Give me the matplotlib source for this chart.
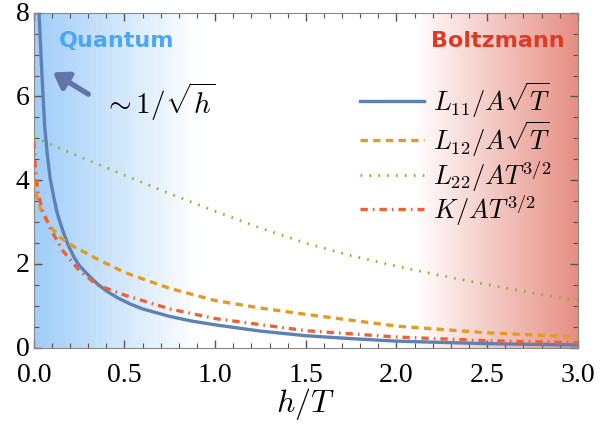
import numpy as np
import matplotlib
matplotlib.use("Agg")
import matplotlib.pyplot as plt
import matplotlib.transforms as mtransforms
from matplotlib.ticker import MultipleLocator, FormatStrFormatter

plt.rcParams['mathtext.fontset'] = 'cm'
plt.rcParams['font.family'] = ['Liberation Serif', 'DejaVu Serif']

# values
x_l11 = [0.022, 0.03, 0.042, 0.05, 0.06, 0.075, 0.09, 0.11, 0.13, 0.16, 0.19, 0.22, 0.25, 0.3,
         0.35, 0.4, 0.46, 0.53, 0.6, 0.75, 0.87, 1.0, 1.25, 1.5, 1.75, 2.0, 2.5, 3.0]
y_l11 = [8.7, 7.9, 6.8, 6.1, 5.3, 4.6, 4.05, 3.6, 3.2, 2.8, 2.45, 2.18, 1.97, 1.74,
         1.53, 1.36, 1.2, 1.05, 0.93, 0.75, 0.64, 0.55, 0.4, 0.29, 0.22, 0.16, 0.10, 0.07]

x_l12 = [0.0, 0.02, 0.042, 0.09, 0.15, 0.22, 0.35, 0.5, 0.75, 1.0, 1.25, 1.5, 2.0, 2.5, 3.0]
y_l12 = [4.0, 3.55, 3.27, 2.9, 2.62, 2.42, 2.12, 1.8, 1.42, 1.13, 0.95, 0.8, 0.52, 0.36, 0.26]

x_l22 = [0.0, 0.25, 0.5, 0.75, 1.0, 1.25, 1.5, 1.75, 2.0, 2.25, 2.5, 2.75, 3.0]
y_l22 = [5.03, 4.57, 4.12, 3.68, 3.26, 2.86, 2.5, 2.2, 1.95, 1.72, 1.51, 1.31, 1.13]

x_k = [0.0, 0.01, 0.024, 0.05, 0.088, 0.16, 0.25, 0.35, 0.5, 0.75, 1.0, 1.5, 2.0, 2.5, 3.0]
y_k = [4.93, 4.22, 3.67, 3.27, 2.87, 2.32, 1.85, 1.5, 1.26, 0.93, 0.7, 0.41, 0.26, 0.17, 0.12]

labels = [r'$L_{11}/A\sqrt{T}$', r'$L_{12}/A\sqrt{T}$', r'$L_{22}/AT^{3/2}$', r'$K/AT^{3/2}$']
colors = ['#5E81B5', '#E19C24', '#8FB032', '#EB6235']

fig = plt.figure(figsize=(6.14, 4.27), dpi=100)
ax = fig.add_axes([0.055, 0.183, 0.886, 0.785])

# background: blue fade on the left, red fade on the right
xs = np.linspace(0, 3, 600)
blue = np.array([160, 205, 248]) / 255.0
red = np.array([230, 142, 130]) / 255.0
white = np.ones(3)
wb = np.clip(1 - xs / 0.9, 0, 1)[:, None]
wr = np.clip((xs - 2.1) / 0.9, 0, 1)[:, None]
img = white * (1 - wb - wr) + blue * wb + red * wr
ax.imshow(img[None, :, :], extent=[0, 3, 0, 8], aspect='auto', zorder=0, interpolation='bilinear')

ax.plot(x_l11, y_l11, color=colors[0], lw=2.4, label=labels[0], zorder=3)
ax.plot(x_l12, y_l12, color=colors[1], lw=2.4, ls=(0, (2.2, 1.6)), label=labels[1], zorder=3)
ax.plot(x_l22, y_l22, color=colors[2], lw=2.0, ls=(0, (0.6, 2.6)), label=labels[2], zorder=3)
ax.plot(x_k, y_k, color=colors[3], lw=2.4, ls=(0, (2.2, 1.5, 0.5, 1.5)), label=labels[3], zorder=3)

ax.set_xlim(0, 3)
ax.set_ylim(0, 8)
ax.xaxis.set_major_locator(MultipleLocator(0.5))
ax.xaxis.set_minor_locator(MultipleLocator(0.1))
ax.yaxis.set_major_locator(MultipleLocator(2))
ax.yaxis.set_minor_locator(MultipleLocator(0.5))
ax.xaxis.set_major_formatter(FormatStrFormatter('%.1f'))
ax.tick_params(which='both', direction='in', top=True, right=True, color='#555555', labelsize=20)
ax.tick_params(which='major', length=6, width=1)
ax.tick_params(which='minor', length=3.5, width=0.8)
ax.tick_params(axis='x', pad=10)
ax.tick_params(axis='y', pad=3)
shift_up = mtransforms.ScaledTranslation(0, 1.5 / 72, fig.dpi_scale_trans)
for lab in ax.get_yticklabels():
    lab.set_transform(lab.get_transform() + shift_up)
for s in ax.spines.values():
    s.set_color('#888888')
ax.set_xlabel(r'$h/T$', fontsize=23, labelpad=-1)

ax.text(0.14, 7.35, 'Quantum', color='#4DA6F2', fontsize=16, fontweight='bold',
        family='DejaVu Sans', ha='left', va='center')
ax.text(2.93, 7.35, 'Boltzmann', color='#E03A26', fontsize=16, fontweight='bold',
        family='DejaVu Sans', ha='right', va='center')

ax.annotate('', xy=(0.092, 6.61), xytext=(0.314, 6.02),
            arrowprops=dict(arrowstyle='-|>,head_length=0.9,head_width=0.6', color='#6275A8', lw=3.8))
ax.text(0.38, 5.9, r'$\sim 1/\sqrt{h}$', fontsize=21, ha='left', va='center')

ax.legend(loc='upper left', bbox_to_anchor=(0.6, 0.8), frameon=False, fontsize=19,
          handlelength=2.4, labelspacing=-0.02, borderpad=0, borderaxespad=0, handletextpad=0.35)

fig.savefig('out.png', dpi=100)
